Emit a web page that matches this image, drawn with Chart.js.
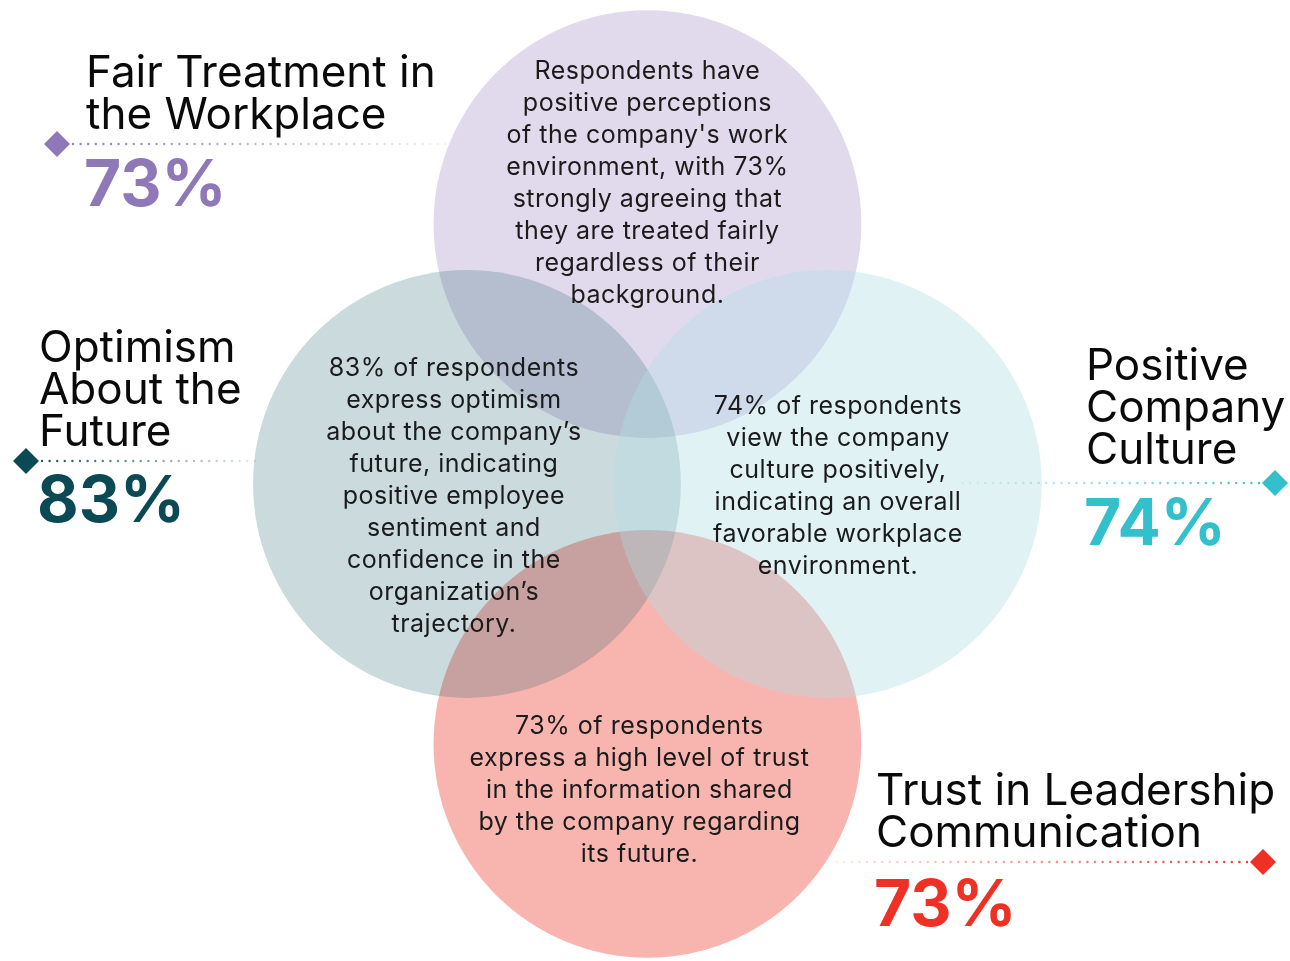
<!DOCTYPE html>
<html>
<head>
<meta charset="utf-8">
<title>Employee perceptions</title>
<script src="https://cdn.jsdelivr.net/npm/chart.js@4.4.1/dist/chart.umd.min.js"></script>
<style>
  html, body { margin: 0; padding: 0; background: #ffffff; }
  #wrap { width: 1290px; height: 961px; }
</style>
</head>
<body>
<div id="wrap"><canvas id="vennChart" width="1290" height="961"></canvas></div>
<script>
// Themes, in drawing order (top, bottom, left, right)
const themes = ["Fair Treatment in the Workplace", "Trust in Leadership Communication", "Optimism About the Future", "Positive Company Culture"];
const percents = [73, 73, 83, 74];
const titleLines = [
    ["Fair Treatment in", "the Workplace"],
    ["Trust in Leadership", "Communication"],
    ["Optimism", "About the", "Future"],
    ["Positive", "Company", "Culture"],
];
const descriptions = [
    ["Respondents have", "positive perceptions", "of the company's work", "environment, with 73%", "strongly agreeing that", "they are treated fairly", "regardless of their", "background."],
    ["73% of respondents", "express a high level of trust", "in the information shared", "by the company regarding", "its future."],
    ["83% of respondents", "express optimism", "about the company\u2019s", "future, indicating", "positive employee", "sentiment and", "confidence in the", "organization\u2019s", "trajectory."],
    ["74% of respondents", "view the company", "culture positively,", "indicating an overall", "favorable workplace", "environment."],
];
// circle centres in venn units
const centerX = [0, 0, -1, 1];
const centerY = [1, -1, 0, 0];
const circleRadius = 1.185; // in x units

const accentColors = ["#8f78b8", "#ee3124", "#0b4a55", "#33c0cc"];
const fillColors = ["rgba(143,120,184,0.27)", "rgba(240,90,80,0.45)", "rgba(18,86,95,0.22)", "rgba(176,221,229,0.38)"];

// layout (pixels) for the side labels
const labelLayout = [
    { x: 86, y: 87, lineY: 144, diamondX: 57, lineEnd: 450, pctY: 206 },
    { x: 876, y: 805, lineY: 862, diamondX: 1263, lineEnd: 830, pctY: 926 },
    { x: 39, y: 362, lineY: 461, diamondX: 26, lineEnd: 258, pctY: 522 },
    { x: 1086, y: 380, lineY: 483, diamondX: 1275, lineEnd: 955, pctY: 545 },
];
// shift of description block from circle centre
const descShiftX = [0, -8, -13, 10];
const descShiftY = [-33, 54, 20, 10];

function drawDots(ctx, x0, x1, y, color) {
    // dotted line fading towards x1
    const step = 7.6;
    const len = Math.abs(x1 - x0);
    const dir = x1 > x0 ? 1 : -1;
    ctx.fillStyle = color;
    for (let d = 16; d <= len; d += step) {
        const t = d / len;
        ctx.globalAlpha = Math.max(0.08, 1 - t * 0.9);
        ctx.beginPath();
        ctx.arc(x0 + dir * d, y, 1.2, 0, Math.PI * 2);
        ctx.fill();
    }
    ctx.globalAlpha = 1;
}

const vennText = {
    id: "vennText",
    afterDatasetsDraw(chart) {
        const ctx = chart.ctx;
        const xs = chart.scales.x;
        const ys = chart.scales.y;
        ctx.save();

        // descriptions inside circles
        ctx.font = "400 25px Inter";
        ctx.letterSpacing = "0.5px";
        ctx.fillStyle = "#1b1b1b";
        ctx.textAlign = "center";
        ctx.textBaseline = "alphabetic";
        descriptions.forEach((lines, i) => {
            const cx = xs.getPixelForValue(centerX[i]) + descShiftX[i];
            const cy = ys.getPixelForValue(centerY[i]) + descShiftY[i];
            const top = cy - (lines.length - 1) * 32 / 2;
            lines.forEach((line, j) => {
                ctx.fillText(line, cx, top + j * 32);
            });
        });
        ctx.letterSpacing = "0px";

        // side labels
        themes.forEach((t, i) => {
            const l = labelLayout[i];
            ctx.textAlign = "left";
            ctx.fillStyle = "#0a0a0a";
            ctx.font = "400 44px Inter";
            titleLines[i].forEach((line, j) => {
                ctx.fillText(line, l.x, l.y + j * 42);
            });

            drawDots(ctx, l.diamondX, l.lineEnd, l.lineY, accentColors[i]);

            // diamond marker
            ctx.fillStyle = accentColors[i];
            ctx.beginPath();
            ctx.moveTo(l.diamondX, l.lineY - 13);
            ctx.lineTo(l.diamondX + 13, l.lineY);
            ctx.lineTo(l.diamondX, l.lineY + 13);
            ctx.lineTo(l.diamondX - 13, l.lineY);
            ctx.closePath();
            ctx.fill();

            ctx.font = "700 64px Inter";
            ctx.fillText(percents[i] + "%", l.x - 2, l.pctY);
        });
        ctx.restore();
    }
};

const ctx = document.getElementById("vennChart").getContext("2d");
const myChart = new Chart(ctx, {
    type: "bubble",
    data: {
        labels: themes,
        datasets: [{
            label: "Themes",
            data: centerX.map((x, i) => ({ x: x, y: centerY[i], r: 1 })),
            backgroundColor: fillColors,
            borderWidth: 0,
            hoverBorderWidth: 0,
            clip: false,
        }],
    },
    options: {
        responsive: false,
        devicePixelRatio: 1,
        animation: false,
        events: [],
        layout: { padding: 0, autoPadding: false },
        plugins: {
            legend: { display: false },
            tooltip: { enabled: false },
        },
        scales: {
            x: { type: "linear", min: -3.587, max: 3.560, display: false },
            y: { type: "linear", min: -1.835, max: 1.862, display: false },
        },
    },
    plugins: [vennText],
});

// bubble radius (pixels) comes from the x scale once it is laid out
const xScale = myChart.scales.x;
const radiusPx = xScale.getPixelForValue(circleRadius) - xScale.getPixelForValue(0);
myChart.data.datasets[0].data.forEach((p) => { p.r = radiusPx; });
myChart.update("none");
</script>
</body>
</html>
